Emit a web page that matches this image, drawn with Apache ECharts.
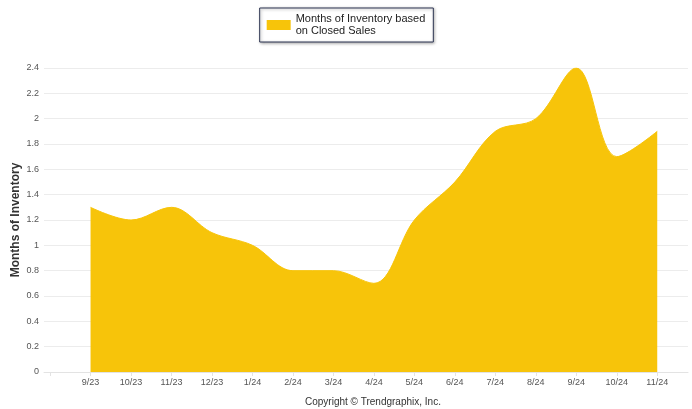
<!DOCTYPE html>
<html>
<head>
<meta charset="utf-8">
<script src="https://cdn.jsdelivr.net/npm/echarts@6/dist/echarts.min.js"></script>
<style>
  html, body { margin: 0; padding: 0; background: #fff; }
  #chart { width: 692px; height: 409px; }
</style>
</head>
<body>
<div id="chart"></div>
<script>
// Monthly categories along the x axis
const months = ['9/23', '10/23', '11/23', '12/23', '1/24', '2/24', '3/24', '4/24',
                '5/24', '6/24', '7/24', '8/24', '9/24', '10/24', '11/24'];
// Months of inventory based on closed sales
const inventory = [1.3, 1.2, 1.3, 1.1, 1.0, 0.8, 0.8, 0.7, 1.2, 1.5, 1.9, 2.0, 2.4, 1.7, 1.9];
const seriesName = 'Months of Inventory based\non Closed Sales';
const yAxisTitle = 'Months of Inventory';
const footerText = 'Copyright \u00A9 Trendgraphix, Inc.';

const labelPositions = months.map((m, i) => i);
const tickPositions = [-1].concat(labelPositions);
const points = inventory.map((v, i) => [i, v]);

const chart = echarts.init(document.getElementById('chart'), null, { renderer: 'canvas' });
chart.setOption({
  animation: false,
  backgroundColor: '#ffffff',
  textStyle: { fontFamily: 'Liberation Sans, Arial, sans-serif' },
  grid: { left: 44, right: 4, top: 68, bottom: 37, containLabel: false, outerBoundsMode: 'none' },
  legend: {
    data: [seriesName],
    left: 'center',
    top: 8,
    icon: 'rect',
    itemWidth: 24,
    itemHeight: 10,
    itemGap: 5,
    padding: [5, 8, 5, 7],
    borderColor: '#2d3552',
    borderWidth: 1,
    backgroundColor: '#ffffff',
    shadowColor: 'rgba(0,0,0,0.35)',
    shadowBlur: 3,
    shadowOffsetX: 1,
    shadowOffsetY: 1,
    textStyle: { fontSize: 11, color: '#222', lineHeight: 12, fontFamily: 'Liberation Sans, Arial, sans-serif' }
  },
  xAxis: {
    type: 'value',
    min: -1.15,
    max: 14.76,
    splitLine: { show: false },
    axisLine: { show: true, lineStyle: { color: '#e3e3e3', width: 1 } },
    axisTick: { show: true, length: 4, customValues: tickPositions, lineStyle: { color: '#e3e3e3' } },
    axisLabel: {
      customValues: labelPositions,
      formatter: v => months[Math.round(v)] || '',
      fontSize: 9,
      color: '#555',
      margin: 6
    }
  },
  yAxis: {
    type: 'value',
    min: 0,
    max: 2.4,
    interval: 0.2,
    name: yAxisTitle,
    nameLocation: 'middle',
    nameGap: 22,
    nameMoveOverlap: false,
    nameTextStyle: { fontSize: 12, fontWeight: 'bold', color: '#333' },
    axisLine: { show: false },
    axisTick: { show: false },
    axisLabel: {
      fontSize: 9,
      color: '#555',
      margin: 5,
      formatter: v => String(Math.round(v * 10) / 10)
    },
    splitLine: { lineStyle: { color: '#ececec', width: 1 } }
  },
  series: [{
    name: seriesName,
    type: 'line',
    data: points,
    smooth: 0.35,
    symbol: 'none',
    color: '#f7c40a',
    lineStyle: { width: 1, color: '#f7c40a' },
    areaStyle: { color: '#f7c40a', opacity: 1 }
  }],
  graphic: [{
    type: 'text',
    left: 305,
    top: 397,
    style: {
      text: footerText,
      fontSize: 10,
      fill: '#333',
      fontFamily: 'Liberation Sans, Arial, sans-serif'
    }
  }]
});
</script>
</body>
</html>
